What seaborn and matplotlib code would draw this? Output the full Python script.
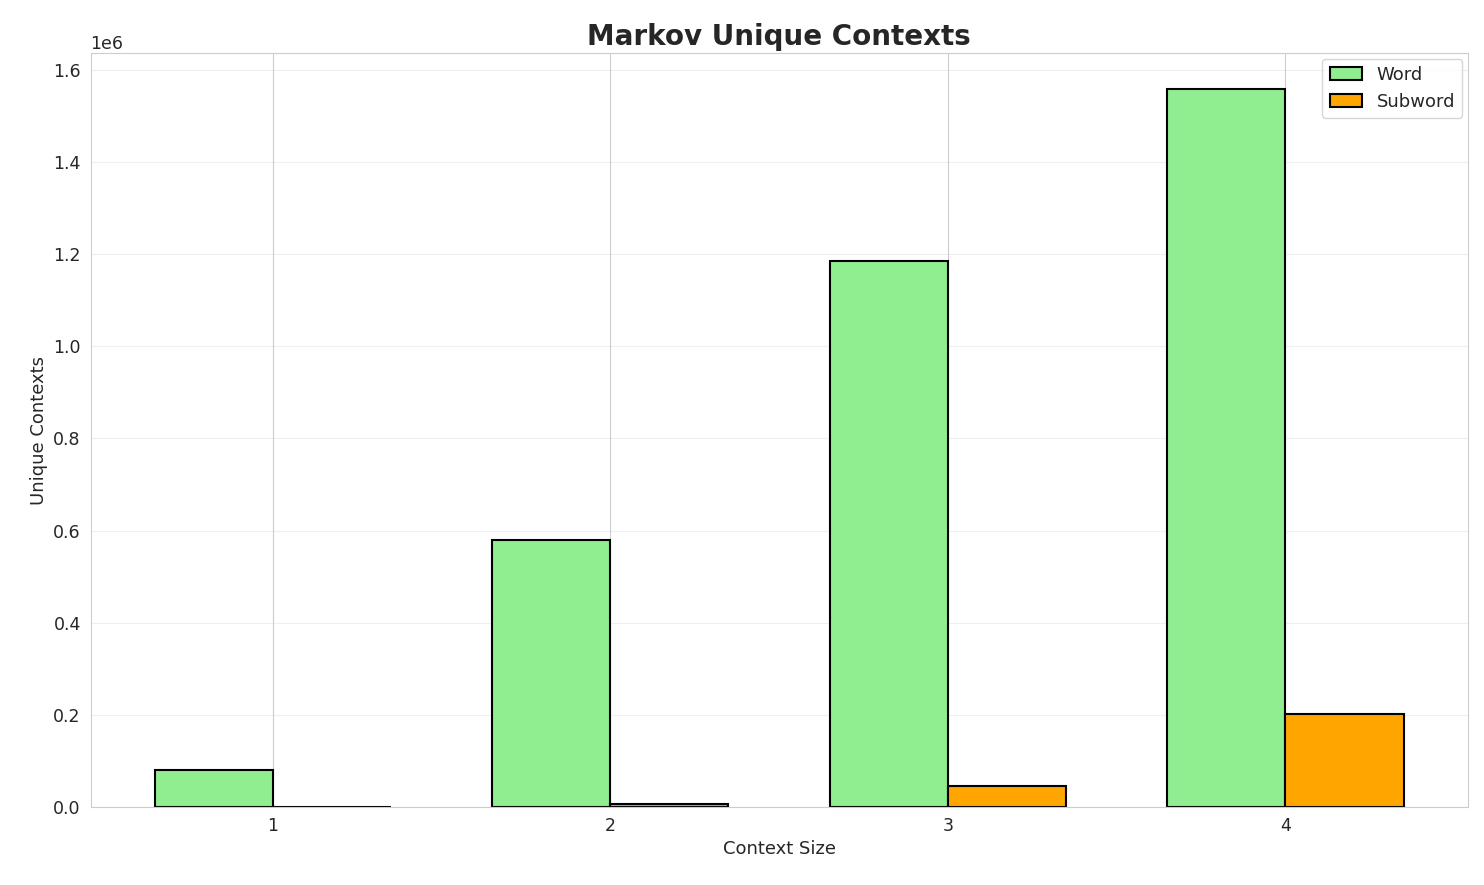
import matplotlib
matplotlib.use("Agg")
import matplotlib.pyplot as plt
import seaborn as sns
import pandas as pd

context_sizes = ["1", "2", "3", "4"]
word_contexts = [80000, 580000, 1185000, 1558000]
subword_contexts = [1000, 7000, 45000, 202000]

df = pd.DataFrame({
    "Context Size": context_sizes * 2,
    "Unique Contexts": word_contexts + subword_contexts,
    "Type": ["Word"] * 4 + ["Subword"] * 4,
})

sns.set_style("whitegrid")
fig, ax = plt.subplots(figsize=(14.84, 8.85), dpi=100)
sns.barplot(data=df, x="Context Size", y="Unique Contexts", hue="Type",
            palette={"Word": "lightgreen", "Subword": "orange"},
            width=0.7, edgecolor="black", linewidth=1.5, ax=ax, saturation=1)
ax.set_title("Markov Unique Contexts", fontsize=20, fontweight="bold")
ax.set_xlabel("Context Size", fontsize=13)
ax.set_ylabel("Unique Contexts", fontsize=13)
ax.tick_params(labelsize=12.5)
ax.yaxis.get_offset_text().set_fontsize(12.5)
ax.yaxis.grid(True, alpha=0.3)
ax.xaxis.grid(True)
ax.set_xlim(-0.54, 3.54)
ax.legend(title=None, fontsize=13, loc="upper right", borderaxespad=0.3,
          handlelength=1.8)
fig.subplots_adjust(left=0.061, right=0.989, top=0.94, bottom=0.088)
fig.savefig("out.png", dpi=100)
